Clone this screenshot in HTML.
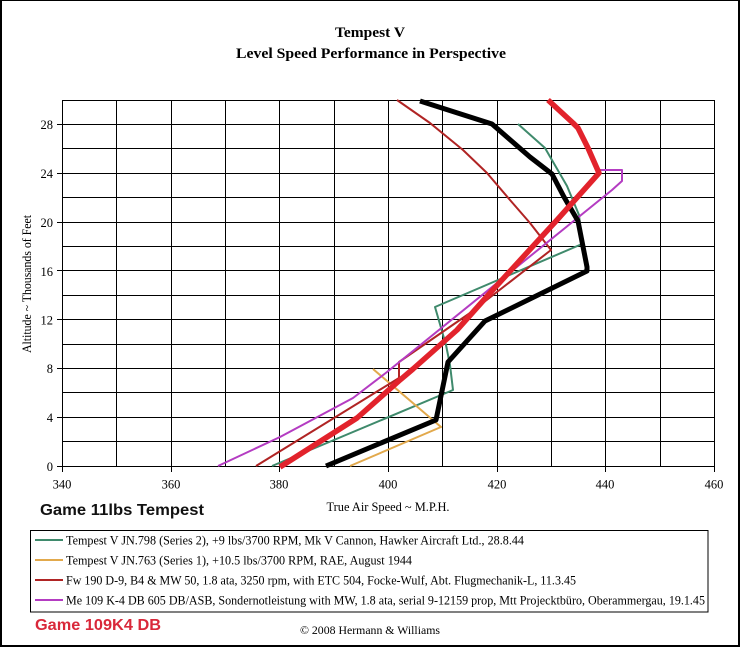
<!DOCTYPE html>
<html>
<head>
<meta charset="utf-8">
<style>
html,body{margin:0;padding:0;background:#fff;}
svg{display:block;}
</style>
</head>
<body>
<svg width="740" height="647" viewBox="0 0 740 647" xmlns="http://www.w3.org/2000/svg">
  <rect x="0" y="0" width="740" height="647" fill="#fff"/>
  <!-- outer frame -->
  <g fill="#000" shape-rendering="crispEdges">
    <rect x="0" y="0" width="740" height="1"/>
    <rect x="0" y="0" width="2" height="647"/>
    <rect x="738" y="0" width="2" height="647"/>
    <rect x="0" y="645" width="740" height="2"/>
  </g>

  <!-- titles -->
  <g font-family="'Liberation Serif', serif" font-weight="bold" fill="#000" text-anchor="middle">
    <text x="370" y="37" font-size="15" textLength="70" lengthAdjust="spacingAndGlyphs">Tempest V</text>
    <text x="371" y="58" font-size="15" textLength="270" lengthAdjust="spacingAndGlyphs">Level Speed Performance in Perspective</text>
  </g>

  <!-- grid -->
  <g stroke="#000" stroke-width="1" shape-rendering="crispEdges" fill="none">
    <line x1="62.5" y1="100" x2="62.5" y2="472"/>
    <line x1="116.5" y1="100" x2="116.5" y2="466"/>
    <line x1="171.5" y1="100" x2="171.5" y2="472"/>
    <line x1="225.5" y1="100" x2="225.5" y2="466"/>
    <line x1="279.5" y1="100" x2="279.5" y2="472"/>
    <line x1="334.5" y1="100" x2="334.5" y2="466"/>
    <line x1="388.5" y1="100" x2="388.5" y2="472"/>
    <line x1="442.5" y1="100" x2="442.5" y2="466"/>
    <line x1="497.5" y1="100" x2="497.5" y2="472"/>
    <line x1="551.5" y1="100" x2="551.5" y2="466"/>
    <line x1="605.5" y1="100" x2="605.5" y2="472"/>
    <line x1="660.5" y1="100" x2="660.5" y2="466"/>
    <line x1="714.5" y1="100" x2="714.5" y2="472"/>

    <line x1="57" y1="466.5" x2="715" y2="466.5"/>
    <line x1="62" y1="441.5" x2="715" y2="441.5"/>
    <line x1="57" y1="417.5" x2="715" y2="417.5"/>
    <line x1="62" y1="392.5" x2="715" y2="392.5"/>
    <line x1="57" y1="368.5" x2="715" y2="368.5"/>
    <line x1="62" y1="344.5" x2="715" y2="344.5"/>
    <line x1="57" y1="319.5" x2="715" y2="319.5"/>
    <line x1="62" y1="295.5" x2="715" y2="295.5"/>
    <line x1="57" y1="270.5" x2="715" y2="270.5"/>
    <line x1="62" y1="246.5" x2="715" y2="246.5"/>
    <line x1="57" y1="222.5" x2="715" y2="222.5"/>
    <line x1="62" y1="197.5" x2="715" y2="197.5"/>
    <line x1="57" y1="173.5" x2="715" y2="173.5"/>
    <line x1="62" y1="148.5" x2="715" y2="148.5"/>
    <line x1="57" y1="124.5" x2="715" y2="124.5"/>
    <line x1="62" y1="100.5" x2="715" y2="100.5"/>
  </g>

  <!-- y tick labels -->
  <g font-family="'Liberation Serif', serif" font-size="12.5" fill="#000" text-anchor="end">
    <text x="53" y="471">0</text>
    <text x="53" y="422">4</text>
    <text x="53" y="373">8</text>
    <text x="53" y="324.5">12</text>
    <text x="53" y="276">16</text>
    <text x="53" y="227">20</text>
    <text x="53" y="178">24</text>
    <text x="53" y="129">28</text>
  </g>
  <!-- x tick labels -->
  <g font-family="'Liberation Serif', serif" font-size="12.5" fill="#000" text-anchor="middle">
    <text x="62" y="488.5">340</text>
    <text x="171" y="488.5">360</text>
    <text x="279" y="488.5">380</text>
    <text x="388" y="488.5">400</text>
    <text x="497" y="488.5">420</text>
    <text x="605" y="488.5">440</text>
    <text x="714" y="488.5">460</text>
  </g>
  <!-- axis titles -->
  <text x="388" y="511" font-family="'Liberation Serif', serif" font-size="12.5" fill="#000" text-anchor="middle" textLength="123" lengthAdjust="spacingAndGlyphs">True Air Speed ~ M.P.H.</text>
  <text transform="translate(31,284) rotate(-90)" x="0" y="0" font-family="'Liberation Serif', serif" font-size="12.5" fill="#000" text-anchor="middle" textLength="138" lengthAdjust="spacingAndGlyphs">Altitude ~ Thousands of Feet</text>

  <!-- series -->
  <g fill="none" stroke-linejoin="round" stroke-linecap="butt">
    <!-- green -->
    <polyline stroke="#3f8a6c" stroke-width="2" points="272,466 453,390 450,365 446,345 435,307 582,244 579,215 567,186 545,148 518,124"/>
    <!-- orange -->
    <polyline stroke="#e2a94c" stroke-width="2" points="350,466 441,427 373,369"/>
    <!-- dark red -->
    <polyline stroke="#b02424" stroke-width="2" points="256,466 399,378 399,362 470,313 551,250 530,223 510,200 487,173 463,150 430,123 397,100"/>
    <!-- magenta -->
    <polyline stroke="#b43cc2" stroke-width="2" points="218,466 280,437 353,398 387,372 612,190 622,181 622,170 600,170"/>
    <!-- black -->
    <polyline stroke="#000" stroke-width="5" points="326,466 436,420 448,362 485,321 587,271 587,267 578,221 564,197 552,174 530,157 492,124 420,101"/>
    <!-- thick red -->
    <polyline stroke="#e2232c" stroke-width="5.5" points="280,467 357,418 400,380 413,369 457,330 490,293 557,220 599,173 588,148 578,128 573,123 548,100"/>
  </g>

  <!-- Game label 1 -->
  <text x="40" y="515" font-family="'Liberation Sans', sans-serif" font-weight="bold" font-size="16" fill="#111" textLength="164" lengthAdjust="spacingAndGlyphs">Game 11lbs Tempest</text>

  <!-- legend -->
  <rect x="30.5" y="530.5" width="677.5" height="81.5" fill="#fff" stroke="#000" stroke-width="1" shape-rendering="crispEdges"/>
  <g stroke-width="2">
    <line x1="35" y1="540" x2="63" y2="540" stroke="#3f8a6c"/>
    <line x1="35" y1="560" x2="63" y2="560" stroke="#e2a94c"/>
    <line x1="35" y1="580" x2="63" y2="580" stroke="#b02424"/>
    <line x1="35" y1="600" x2="63" y2="600" stroke="#b43cc2"/>
  </g>
  <g font-family="'Liberation Serif', serif" font-size="13" fill="#000">
    <text x="66" y="544.5" textLength="458" lengthAdjust="spacingAndGlyphs">Tempest V JN.798 (Series 2), +9 lbs/3700 RPM, Mk V Cannon, Hawker Aircraft Ltd., 28.8.44</text>
    <text x="66" y="564.5" textLength="346" lengthAdjust="spacingAndGlyphs">Tempest V JN.763 (Series 1), +10.5 lbs/3700 RPM, RAE, August 1944</text>
    <text x="66" y="584.5" textLength="510" lengthAdjust="spacingAndGlyphs">Fw 190 D-9, B4 &amp; MW 50, 1.8 ata, 3250 rpm, with ETC 504, Focke-Wulf, Abt. Flugmechanik-L, 11.3.45</text>
    <text x="66" y="604.5" textLength="639" lengthAdjust="spacingAndGlyphs">Me 109 K-4 DB 605 DB/ASB, Sondernotleistung with MW, 1.8 ata, serial 9-12159 prop, Mtt Projecktbüro, Oberammergau, 19.1.45</text>
  </g>

  <!-- Game label 2 -->
  <text x="35" y="630" font-family="'Liberation Sans', sans-serif" font-weight="bold" font-size="16" fill="#d9283a" textLength="126" lengthAdjust="spacingAndGlyphs">Game 109K4 DB</text>

  <!-- copyright -->
  <text x="300" y="634" font-family="'Liberation Serif', serif" font-size="12" fill="#000" textLength="140" lengthAdjust="spacingAndGlyphs">© 2008 Hermann &amp; Williams</text>
</svg>
</body>
</html>
